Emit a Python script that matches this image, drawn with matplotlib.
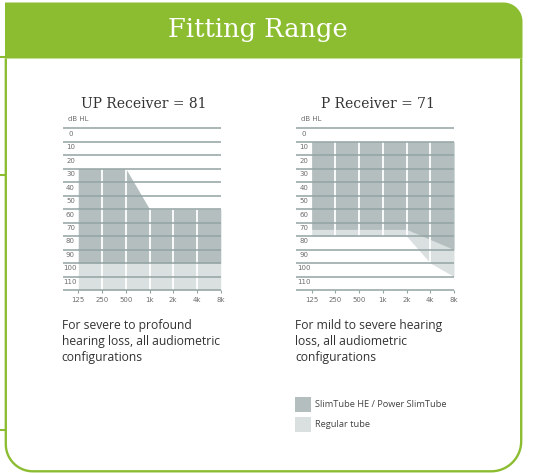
import numpy as np
import matplotlib
matplotlib.use("Agg")
import matplotlib.pyplot as plt
from matplotlib.patches import PathPatch, Rectangle
from matplotlib.path import Path
from matplotlib.ticker import NullLocator
import matplotlib.transforms as mtransforms

# audiogram data
freqs = [125, 250, 500, 1000, 2000, 4000, 8000]
freq_labels = ["125", "250", "500", "1k", "2k", "4k", "8k"]
db_levels = [0, 10, 20, 30, 40, 50, 60, 70, 80, 90, 100, 110]

# UP receiver fitting range
up_top = [30, 30, 30, 60, 60, 60, 60]
up_slim_bottom = [100, 100, 100, 100, 100, 100, 100]
up_reg_bottom = [120, 120, 120, 120, 120, 120, 120]

# P receiver fitting range
p_top = [10, 10, 10, 10, 10, 10, 10]
p_slim_bottom = [75, 75, 75, 75, 75, 82.5, 90]
p_reg_freqs = [125, 2000, 4000, 5700, 8000]
p_reg_bottom = [80, 80, 100, 110, 110]

green = "#8cbd31"
dark = "#b4bebe"
light = "#dae0e0"
rule = "#93a3a3"

W, H = 533, 473
fig = plt.figure(figsize=(W / 100, H / 100), dpi=100)
bg = fig.add_axes([0, 0, 1, 1])
bg.set_xlim(0, W)
bg.set_ylim(H, 0)
bg.axis("off")


def arc(cx, cy, r, a0, a1, n=20):
    t = np.radians(np.linspace(a0, a1, n))
    return list(zip(cx + r * np.cos(t), cy + r * np.sin(t)))


# header band, rounded at the top right
hx0, hx1, hy0, hy1, hr = 5, 522.5, 2.5, 58.5, 19
pts = [(hx0, hy1), (hx0, hy0), (hx1 - hr, hy0)]
pts += arc(hx1 - hr, hy0 + hr, hr, -90, 0)
pts += [(hx1, hy1), (hx0, hy1)]
bg.add_patch(PathPatch(Path(pts, closed=True), fc=green, ec="none"))
bg.text(258, 37, "Fitting Range", color="white",
        fontsize=18.5, family="DejaVu Serif", ha="center", va="baseline")

# outline of the body
bx0, bx1, by1 = 5.8, 521.2, 471.3
pts = [(bx0, hy1)]
pts += arc(bx0 + 27, by1 - 27, 27, 180, 90)
pts += arc(bx1 - 30, by1 - 30, 30, 90, 0)
pts += [(bx1, hy1)]
bg.add_patch(PathPatch(Path(pts), fc="none", ec=green, lw=1.7))
for yy in (57.5, 175, 430):
    bg.plot([0, bx0], [yy, yy], color=green, lw=1.5, solid_capstyle="butt")


def audiogram(rect, title, title_x, top, slim_bottom, reg_freqs, reg_bottom):
    ax = fig.add_axes([rect[0] / W, 1 - rect[3] / H,
                       (rect[2] - rect[0]) / W, (rect[3] - rect[1]) / H])
    ax.set_xscale("log", base=2)
    ax.set_xlim(125, 8000)
    ax.set_ylim(120, 0)
    for s in ax.spines.values():
        s.set_visible(False)
    ax.set_yticks([])
    ax.set_xticks(freqs)
    ax.set_xticklabels(freq_labels)
    ax.xaxis.set_minor_locator(NullLocator())
    ax.tick_params(axis="x", length=2.5, width=0.8, color=rule, pad=2.5,
                   labelsize=5, labelcolor="#6e6e6e")

    lx = np.log2(freqs)
    reg = np.interp(lx, np.log2(reg_freqs), reg_bottom)
    ax.fill_between(freqs, top, reg, color=light, lw=0)
    ax.fill_between(freqs, top, slim_bottom, color=dark, lw=0)
    for f, t, b in zip(freqs[1:-1], top[1:-1], reg[1:-1]):
        ax.plot([f, f], [t, b], color="white", lw=1.3, solid_capstyle="butt")

    tr = mtransforms.blended_transform_factory(ax.transAxes, ax.transData)
    for v in db_levels + [120]:
        ax.plot([-0.11, 1], [v, v], color=rule, lw=1.1, transform=tr,
                clip_on=False, solid_capstyle="butt")
    for v in db_levels:
        ax.text(-0.055, v + 4, str(v), transform=tr, ha="center", va="center",
                fontsize=5, color="#6e6e6e")
    ax.text(-0.075, -7, "dB HL", transform=tr, ha="left", va="center",
            fontsize=5, color="#6e6e6e")
    bg.text(title_x, 108, title, ha="center", va="baseline", fontsize=10,
            family="DejaVu Serif", color="#333333")
    return ax


audiogram((78.3, 128.3, 220.7, 290), "UP Receiver = 81", 144,
          up_top, up_slim_bottom, freqs, up_reg_bottom)
audiogram((311.7, 128.3, 454, 290), "P Receiver = 71", 378,
          p_top, p_slim_bottom, p_reg_freqs, p_reg_bottom)

desc_font = dict(fontsize=8.7, family="Open Sans", color="#333333",
                 va="baseline", ha="left")
for i, line in enumerate(["For severe to profound",
                          "hearing loss, all audiometric",
                          "configurations"]):
    bg.text(61.5, 329 + 16 * i, line, **desc_font)
for i, line in enumerate(["For mild to severe hearing",
                          "loss, all audiometric",
                          "configurations"]):
    bg.text(295, 329 + 16 * i, line, **desc_font)

# legend
legend_items = ["SlimTube HE / Power SlimTube", "Regular tube"]
for i, (lab, c) in enumerate(zip(legend_items, [dark, light])):
    y0 = 396.7 + 20 * i
    bg.add_patch(Rectangle((295, y0), 16, 15, fc=c, ec="none"))
    bg.text(315, y0 + 7.5, lab, fontsize=6.7, family="Open Sans",
            color="#444444", va="center", ha="left")

fig.savefig("out.png", dpi=100)
